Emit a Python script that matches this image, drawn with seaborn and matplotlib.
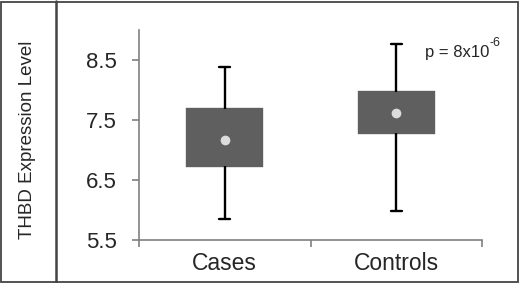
import seaborn as sns
import matplotlib.pyplot as plt
import pandas as pd

# five-number summaries: min, q1, median, q3, max
groups = ["Cases", "Controls"]
cases_stats = [5.85, 6.73, 7.17, 7.68, 8.38]
controls_stats = [5.98, 7.28, 7.62, 7.97, 8.77]
medians = [cases_stats[2], controls_stats[2]]
y_ticks = [5.5, 6.5, 7.5, 8.5]
p_label = "p = 8x10"
p_exp = "-6"

sns.set_style("white")
plt.rcParams["font.family"] = ["Liberation Sans", "DejaVu Sans"]

df = pd.DataFrame({
    "group": [groups[0]] * 5 + [groups[1]] * 5,
    "value": cases_stats + controls_stats,
})

fig = plt.figure(figsize=(5.2, 2.83), dpi=100)
ax = fig.add_axes([139 / 520, 43 / 283, 343 / 520, 210 / 283])

box_grey = "#5f5f5f"
sns.boxplot(data=df, x="group", y="value", ax=ax, whis=(0, 100), width=0.44,
            color=box_grey, linecolor="black", linewidth=1.7,
            boxprops={"edgecolor": box_grey},
            medianprops={"visible": False}, showfliers=False)
sns.stripplot(x=groups, y=medians, ax=ax, jitter=False, color="#dcdcdc",
              size=7, linewidth=0, zorder=5)

# narrow caps
for ln in ax.lines:
    xd, yd = ln.get_xdata(), ln.get_ydata()
    if len(xd) == 2 and yd[0] == yd[1] and xd[0] != xd[1]:
        c = (xd[0] + xd[1]) / 2
        ln.set_xdata([c - 0.032, c + 0.032])

ax.set_xlim(-0.5, 1.5)
ax.set_ylim(5.5, 9.0)
ax.set_yticks(y_ticks)
ax.set_yticklabels([f"{t:.1f}" for t in y_ticks], fontsize=16)
ax.set_xticks([0, 1])
ax.set_xticklabels(groups, fontsize=16.5)
ax.set_xticks([-0.5, 0.5, 1.5], minor=True)
ax.tick_params(axis="x", which="major", length=0, pad=9)
ax.tick_params(axis="x", which="minor", length=5, color="#808080", width=1.2,
               direction="out", bottom=True)
ax.tick_params(axis="y", length=5, color="#808080", width=1.2, direction="out",
               left=True, pad=11)
ax.set_xlabel("")
ax.set_ylabel("")
for side in ["top", "right"]:
    ax.spines[side].set_visible(False)
for side in ["left", "bottom"]:
    ax.spines[side].set_color("#808080")
    ax.spines[side].set_linewidth(1.2)

p_txt = ax.text(1.17, 8.55, p_label, fontsize=12, va="baseline", ha="left")
ax.annotate(p_exp, xy=(1, 1), xycoords=p_txt, xytext=(0, -3),
            textcoords="offset points", fontsize=9, ha="left", va="bottom")

fig.text(28 / 520, 0.505, "THBD Expression Level", rotation=90,
         ha="center", va="center", fontsize=13.5)

# panel frames
frame = "#444444"
fig.add_artist(plt.Rectangle((1 / 520, 1 / 283), 517 / 520, 280 / 283,
                             transform=fig.transFigure, fill=False, ec=frame, lw=1.3))
fig.add_artist(plt.Line2D([56 / 520, 56 / 520], [1 / 283, 282 / 283],
                          transform=fig.transFigure, color=frame, lw=1.8))

fig.savefig("out.png", dpi=100)
